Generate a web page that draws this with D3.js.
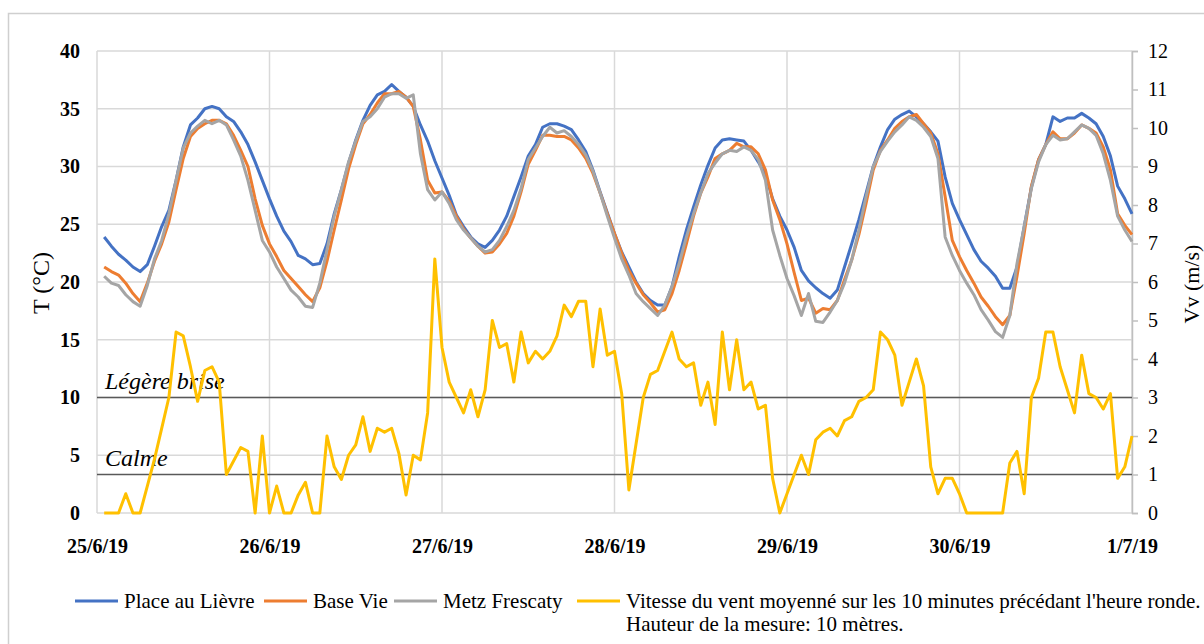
<!DOCTYPE html>
<html><head><meta charset="utf-8">
<script src="https://cdn.jsdelivr.net/npm/d3@7"></script>
<style>
html,body{margin:0;padding:0;background:#fff;}
svg text{font-family:"Liberation Serif","Tinos","Times New Roman","DejaVu Serif",serif !important;}
</style></head>
<body><svg id="c" width="1204" height="644"></svg>
<script>
// x tick labels (one per day, every 24 hours)
const dayLabels = ["25/6/19","26/6/19","27/6/19","28/6/19","29/6/19","30/6/19","1/7/19"];
const tempTicks = [0,5,10,15,20,25,30,35,40];
const windTicks = [0,1,2,3,4,5,6,7,8,9,10,11,12];
const seriesNames = ["Place au Lièvre","Base Vie","Metz Frescaty","Vitesse du vent moyenné sur les 10 minutes précédant l'heure ronde."];
const legendLine2 = "Hauteur de la mesure: 10 mètres.";
const thresholds = [{label:"Légère brise", v:3},{label:"Calme", v:1}];

// hourly values, hour 1 .. 144 (25/6 01h -> 1/7 00h)
const placeAuLievre = [
23.9,23.1,22.4,21.9,21.3,20.9,21.5,23.1,24.8,26.2,28.8,31.7,33.6,34.2,35.0,35.2,35.0,34.3,33.9,33.0,31.9,30.4,28.8,27.2,
25.7,24.4,23.5,22.3,22.0,21.5,21.6,23.3,25.9,28.0,30.3,32.3,34.0,35.3,36.2,36.5,37.1,36.5,36.0,35.2,33.6,32.2,30.5,29.0,
27.5,25.8,24.8,23.9,23.3,23.0,23.6,24.5,25.7,27.4,29.1,30.9,31.9,33.4,33.7,33.7,33.5,33.2,32.3,31.3,29.7,27.8,26.0,24.2,
22.6,21.3,20.0,19.0,18.4,18.0,18.0,19.6,22.2,24.5,26.5,28.4,30.1,31.6,32.3,32.4,32.3,32.2,31.4,30.4,29.3,27.2,25.7,24.5,
23.0,21.0,20.1,19.5,19.0,18.6,19.3,21.3,23.3,25.4,27.7,30.0,31.7,33.2,34.1,34.5,34.8,34.3,33.7,33.0,32.2,29.1,26.8,25.4,
24.1,22.8,21.8,21.2,20.5,19.45,19.45,21.3,24.8,28.2,30.6,31.9,34.3,33.9,34.2,34.2,34.6,34.2,33.7,32.6,30.9,28.3,27.2,25.9];
const baseVie = [
21.3,20.9,20.6,19.9,19.0,18.3,19.9,21.8,23.3,25.2,28.0,30.7,32.6,33.3,33.7,34.0,34.0,33.7,32.7,31.4,30.0,27.2,24.9,23.3,
22.2,21.0,20.3,19.6,18.9,18.3,19.5,21.8,24.5,27.1,29.8,31.9,33.7,34.5,35.5,36.3,36.3,36.5,36.0,35.2,32.3,28.8,27.7,27.8,
27.0,25.7,24.6,23.8,23.1,22.5,22.6,23.3,24.2,25.7,27.8,30.2,31.4,32.7,32.7,32.6,32.6,32.3,31.6,30.7,29.4,27.7,25.9,24.2,
22.5,21.0,19.9,18.9,18.2,17.4,17.6,19.0,21.0,23.3,25.7,27.7,29.1,30.7,31.1,31.4,32.0,31.7,31.7,31.1,29.7,27.1,25.4,23.3,
20.8,18.4,18.6,17.3,17.7,17.6,18.4,20.2,21.9,24.1,26.8,29.7,31.4,32.3,33.3,33.9,34.3,34.5,33.7,32.9,31.1,27.4,23.6,22.2,
21.0,19.9,18.7,17.9,17.0,16.3,17.1,20.5,24.2,28.3,30.6,31.9,33.0,32.4,32.4,32.9,33.6,33.3,32.9,31.7,29.7,25.9,24.9,24.1];
const metzFrescaty = [
20.5,19.9,19.7,18.9,18.3,17.9,19.7,22.0,23.6,25.9,28.8,31.6,32.9,33.5,34.0,33.7,34.0,33.6,32.3,30.9,28.8,26.2,23.6,22.6,
21.3,20.3,19.3,18.7,17.9,17.8,19.9,22.8,25.7,28.0,30.4,32.2,33.9,34.3,35.0,36.0,36.3,36.3,35.9,36.2,31.1,28.0,27.1,27.8,
26.8,25.4,24.5,23.8,23.1,22.6,22.8,23.6,24.8,26.2,28.1,30.6,31.6,32.6,33.4,32.9,33.1,32.6,31.9,31.0,29.6,27.7,25.7,23.8,
22.0,20.6,19.0,18.3,17.7,17.1,18.0,19.6,21.6,23.9,25.9,27.7,29.4,30.3,31.1,31.4,31.3,31.7,31.4,30.6,28.8,24.5,22.3,20.3,
18.8,17.1,19.0,16.6,16.5,17.4,18.4,19.9,21.9,24.5,27.4,30.0,31.3,32.2,33.0,33.6,34.3,34.0,33.4,32.6,30.7,23.9,22.3,21.0,
19.9,18.9,17.6,16.7,15.7,15.2,17.1,21.6,24.8,28.1,30.4,31.9,32.7,32.3,32.4,33.0,33.6,33.3,32.7,31.1,28.8,25.7,24.5,23.5];
const windSpeed = [
0,0,0,0.5,0,0,0.7,1.4,2.2,3.0,4.7,4.6,3.8,2.9,3.7,3.8,3.4,1.0,1.35,1.7,1.6,0,2.0,0,
0.7,0,0,0.47,0.8,0,0,2.0,1.2,0.87,1.5,1.77,2.5,1.6,2.2,2.1,2.2,1.55,0.47,1.5,1.38,2.6,6.6,4.3,
3.4,3.0,2.6,3.2,2.5,3.2,5.0,4.3,4.4,3.4,4.7,3.9,4.2,4.0,4.2,4.6,5.4,5.1,5.5,5.5,3.8,5.3,4.1,4.2,
3.1,0.6,1.8,3.0,3.6,3.7,4.2,4.7,4.0,3.8,3.9,2.8,3.4,2.3,4.7,3.2,4.5,3.2,3.4,2.7,2.8,0.9,0,0.5,
1.0,1.5,1.0,1.9,2.1,2.2,2.0,2.4,2.5,2.9,3.0,3.2,4.7,4.5,4.1,2.8,3.4,4.0,3.3,1.2,0.5,0.9,0.9,0.5,
0,0,0,0,0,0,1.3,1.6,0.5,3.0,3.5,4.7,4.7,3.8,3.2,2.6,4.1,3.1,3.0,2.7,3.1,0.9,1.2,2.0];

const colors = ["#4472C4","#ED7D31","#A5A5A5","#FFC000"];
const FONT = "'Liberation Serif','Tinos','Times New Roman','DejaVu Serif',serif";

const svg = d3.select("#c");
const L=97, R=1132, T=51, B=513;
const x = d3.scaleLinear().domain([0,144]).range([L,R]);
const yT = d3.scaleLinear().domain([0,40]).range([B,T]);
const yV = d3.scaleLinear().domain([0,12]).range([B,T]);

// outer frame
svg.append("rect").attr("x",8.5).attr("y",13.5).attr("width",1200).attr("height",640)
  .attr("fill","none").attr("stroke","#cfcfcf").attr("stroke-width",1.5);

// grid
const grid = svg.append("g");
grid.selectAll("line.h").data(tempTicks).join("line")
  .attr("x1",L).attr("x2",R).attr("y1",d=>yT(d)).attr("y2",d=>yT(d))
  .attr("stroke","#d9d9d9").attr("stroke-width",1.5);
grid.selectAll("line.v").data(dayLabels.map((d,i)=>i*24)).join("line")
  .attr("x1",d=>x(d)).attr("x2",d=>x(d)).attr("y1",T).attr("y2",B)
  .attr("stroke","#d9d9d9").attr("stroke-width",1.5);

// left axis
const ax = svg.append("g").attr("transform",`translate(${L},0)`)
  .call(d3.axisLeft(yT).tickValues(tempTicks).tickSize(0).tickPadding(17));
ax.attr("font-family",FONT);
ax.select(".domain").remove();
ax.selectAll("text").attr("font-size",20).attr("font-weight","bold").attr("fill","#000");

// right axis
const ar = svg.append("g").attr("transform",`translate(${R},0)`)
  .call(d3.axisRight(yV).tickValues(windTicks).tickSize(6).tickPadding(10));
ar.attr("font-family",FONT);
ar.select(".domain").attr("stroke","#bfbfbf").attr("stroke-width",1.5);
ar.selectAll(".tick line").attr("stroke","#bfbfbf").attr("stroke-width",1.5);
ar.selectAll("text").attr("font-size",20).attr("fill","#000");

// bottom axis
const ab = svg.append("g").attr("transform",`translate(0,${B})`)
  .call(d3.axisBottom(x).tickValues(dayLabels.map((d,i)=>i*24)).tickFormat((d,i)=>dayLabels[i]).tickSize(0).tickPadding(26));
ab.attr("font-family",FONT);
ab.select(".domain").remove();
ab.selectAll("text").attr("font-size",20).attr("font-weight","bold").attr("fill","#000");

// axis titles
svg.append("text").attr("transform","translate(49,283) rotate(-90)").attr("text-anchor","middle")
  .attr("font-family",FONT).attr("font-size",24).text("T (°C)");
svg.append("text").attr("transform","translate(1199,284) rotate(-90)").attr("text-anchor","middle")
  .attr("font-family",FONT).attr("font-size",22).text("Vv (m/s)");

// threshold lines
thresholds.forEach(t=>{
  svg.append("line").attr("x1",L).attr("x2",R).attr("y1",yV(t.v)).attr("y2",yV(t.v))
    .attr("stroke","#595959").attr("stroke-width",1.5);
  svg.append("text").attr("x",105).attr("y",yV(t.v)-9).attr("font-size",24)
    .attr("font-family",FONT).attr("font-style","italic").text(t.label);
});

// lines
const lineT = d3.line().x((d,i)=>x(i+1)).y(d=>yT(d));
const lineV = d3.line().x((d,i)=>x(i+1)).y(d=>yV(d));
[[placeAuLievre,0],[baseVie,1],[metzFrescaty,2]].forEach(([arr,k])=>{
  svg.append("path").datum(arr).attr("d",lineT).attr("fill","none")
    .attr("stroke",colors[k]).attr("stroke-width",3).attr("stroke-linejoin","round");
});
svg.append("path").datum(windSpeed).attr("d",lineV).attr("fill","none")
  .attr("stroke",colors[3]).attr("stroke-width",3).attr("stroke-linejoin","round");

// legend
const legX = [75,264,394,577];
const lg = svg.append("g").attr("font-family",FONT);
seriesNames.forEach((n,i)=>{
  lg.append("line").attr("x1",legX[i]).attr("x2",legX[i]+43).attr("y1",601).attr("y2",601)
    .attr("stroke",colors[i]).attr("stroke-width",3);
  lg.append("text").attr("x",legX[i]+49).attr("y",608).attr("font-size",21).text(n);
});
lg.append("text").attr("x",626).attr("y",631).attr("font-size",21).text(legendLine2);
</script></body></html>
